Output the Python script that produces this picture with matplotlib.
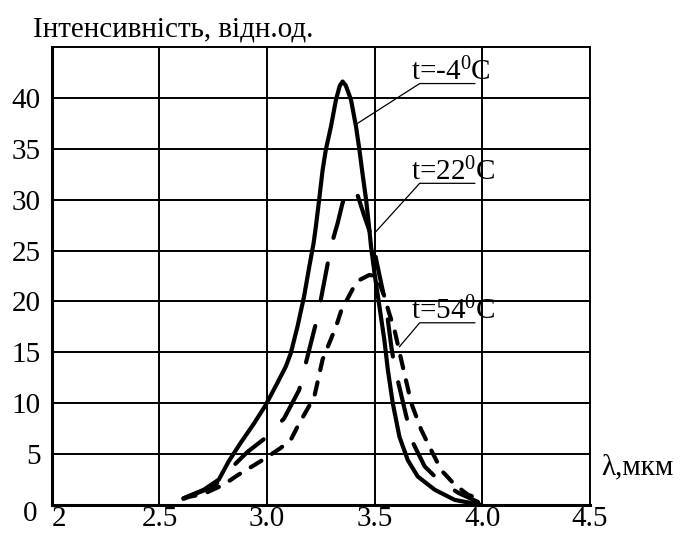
import matplotlib
matplotlib.use("Agg")
import matplotlib.pyplot as plt
from matplotlib.transforms import ScaledTranslation

plt.rcParams['font.family'] = ['Liberation Serif', 'DejaVu Serif']
plt.rcParams['mathtext.fontset'] = 'custom'
plt.rcParams['mathtext.rm'] = 'Liberation Serif'
plt.rcParams['mathtext.it'] = 'Liberation Serif'

# t = -4 C (solid)
x_cold = [2.612, 2.706, 2.776, 2.822, 2.877, 2.939, 2.993, 3.048, 3.087, 3.11, 3.141, 3.172,
          3.196, 3.216, 3.227, 3.242, 3.258, 3.273, 3.297, 3.32, 3.338, 3.351, 3.366, 3.39,
          3.413, 3.429, 3.445, 3.46, 3.472, 3.483, 3.499, 3.522, 3.545, 3.561, 3.584, 3.615,
          3.654, 3.70, 3.779, 3.872, 3.996]
y_cold = [0.66, 1.5, 2.5, 4.3, 6.1, 8.0, 9.8, 12.0, 13.6, 14.9, 17.5, 20.5,
          23.4, 25.7, 27.4, 30.0, 32.9, 34.9, 37.2, 39.8, 41.2, 41.6, 41.2, 39.8,
          37.2, 34.9, 32.3, 30.0, 27.7, 25.4, 22.8, 19.5, 16.2, 13.3, 10.0, 6.7,
          4.4, 2.8, 1.5, 0.5, 0.0]

# t = 22 C (long dash)
x_mid = [2.612, 2.752, 2.846, 2.908, 2.993, 3.079, 3.149, 3.188, 3.237, 3.258, 3.297, 3.328,
         3.351, 3.374, 3.398, 3.418, 3.45, 3.491, 3.507, 3.53, 3.553, 3.577, 3.592, 3.647,
         3.678, 3.732, 3.794, 3.888, 3.98]
y_mid = [0.66, 1.8, 3.9, 5.2, 6.6, 8.5, 11.3, 14.6, 18.7, 21.1, 25.4, 27.7,
         29.7, 30.8, 31.1, 30.6, 28.5, 26.0, 24.1, 21.8, 19.5, 15.6, 13.6, 8.7,
         6.1, 3.8, 2.5, 1.2, 0.3]

# t = 54 C (short dash)
x_hot = [2.612, 2.636, 2.706, 2.799, 2.861, 2.939, 2.993, 3.063, 3.11, 3.149, 3.219, 3.258,
         3.289, 3.32, 3.343, 3.367, 3.405, 3.429, 3.475, 3.50, 3.522, 3.545, 3.565, 3.592,
         3.623, 3.67, 3.716, 3.755, 3.81, 3.872, 3.934, 3.98]
y_hot = [0.6, 0.8, 1.1, 2.0, 2.9, 3.9, 4.6, 5.6, 6.4, 8.0, 10.6, 14.3,
         15.9, 17.5, 19.0, 20.0, 21.5, 22.1, 22.6, 22.5, 21.8, 20.5, 19.0, 17.2,
         14.3, 10.0, 7.4, 5.7, 3.4, 2.0, 1.0, 0.66]

labels = ['t=-4$^{0}$C', 't=22$^{0}$C', 't=54$^{0}$C']
label_pos = [(3.675, 41.4), (3.675, 31.6), (3.675, 17.9)]
label_target = [(3.421, 37.5), (3.499, 26.7), (3.615, 15.55)]

x_ticks = [2, 2.5, 3.0, 3.5, 4.0, 4.5]
x_ticklabels = ['2', '2.5', '3.0', '3.5', '4.0', '4.5']
y_ticks = [0, 5, 10, 15, 20, 25, 30, 35, 40]

fig = plt.figure(figsize=(6.82, 5.33), dpi=100)
ax = fig.add_axes([0.076, 0.0525, 0.789, 0.8595])

ax.plot(x_cold, y_cold, color='black', lw=3, solid_capstyle='round', solid_joinstyle='round')
ax.plot(x_mid, y_mid, color='black', lw=3, dashes=(9, 6.3), dash_capstyle='round',
        dash_joinstyle='round')
ax.plot(x_hot, y_hot, color='black', lw=3, dashes=(3, 3), dash_capstyle='round',
        dash_joinstyle='round')

for txt, (tx, ty), (px, py) in zip(labels, label_pos, label_target):
    ax.plot([px, tx + 0.034, tx + 0.29], [py, ty, ty], color='black', lw=0.9)
    ax.text(tx - 0.005, ty + 0.3, txt, fontsize=21, ha='left', va='baseline')

ax.set_xlim(2, 4.5)
ax.set_ylim(0, 45)
ax.set_xticks(x_ticks)
ax.set_xticklabels(x_ticklabels)
ax.set_yticks(y_ticks)
ax.tick_params(length=0, labelsize=21)
ax.tick_params(axis='y', pad=8)
ax.tick_params(axis='x', pad=1)
ax.grid(True, color='black', lw=1.4)
ax.set_axisbelow(True)
for s in ['top', 'right']:
    ax.spines[s].set_linewidth(1.4)
for s in ['left', 'bottom']:
    ax.spines[s].set_linewidth(2.2)

# nudge the corner labels apart like the original
lab0 = ax.get_yticklabels()[0]
lab0.set_transform(lab0.get_transform() + ScaledTranslation(-0.03, -0.06, fig.dpi_scale_trans))
lab2 = ax.get_xticklabels()[0]
lab2.set_transform(lab2.get_transform() + ScaledTranslation(0.07, 0, fig.dpi_scale_trans))

fig.text(0.048, 0.932, 'Інтенсивність, відн.од.', fontsize=21, ha='left', va='baseline')
fig.text(0.882, 0.11, 'λ,мкм', fontsize=21, ha='left', va='baseline')

fig.savefig('out.png', dpi=100)
